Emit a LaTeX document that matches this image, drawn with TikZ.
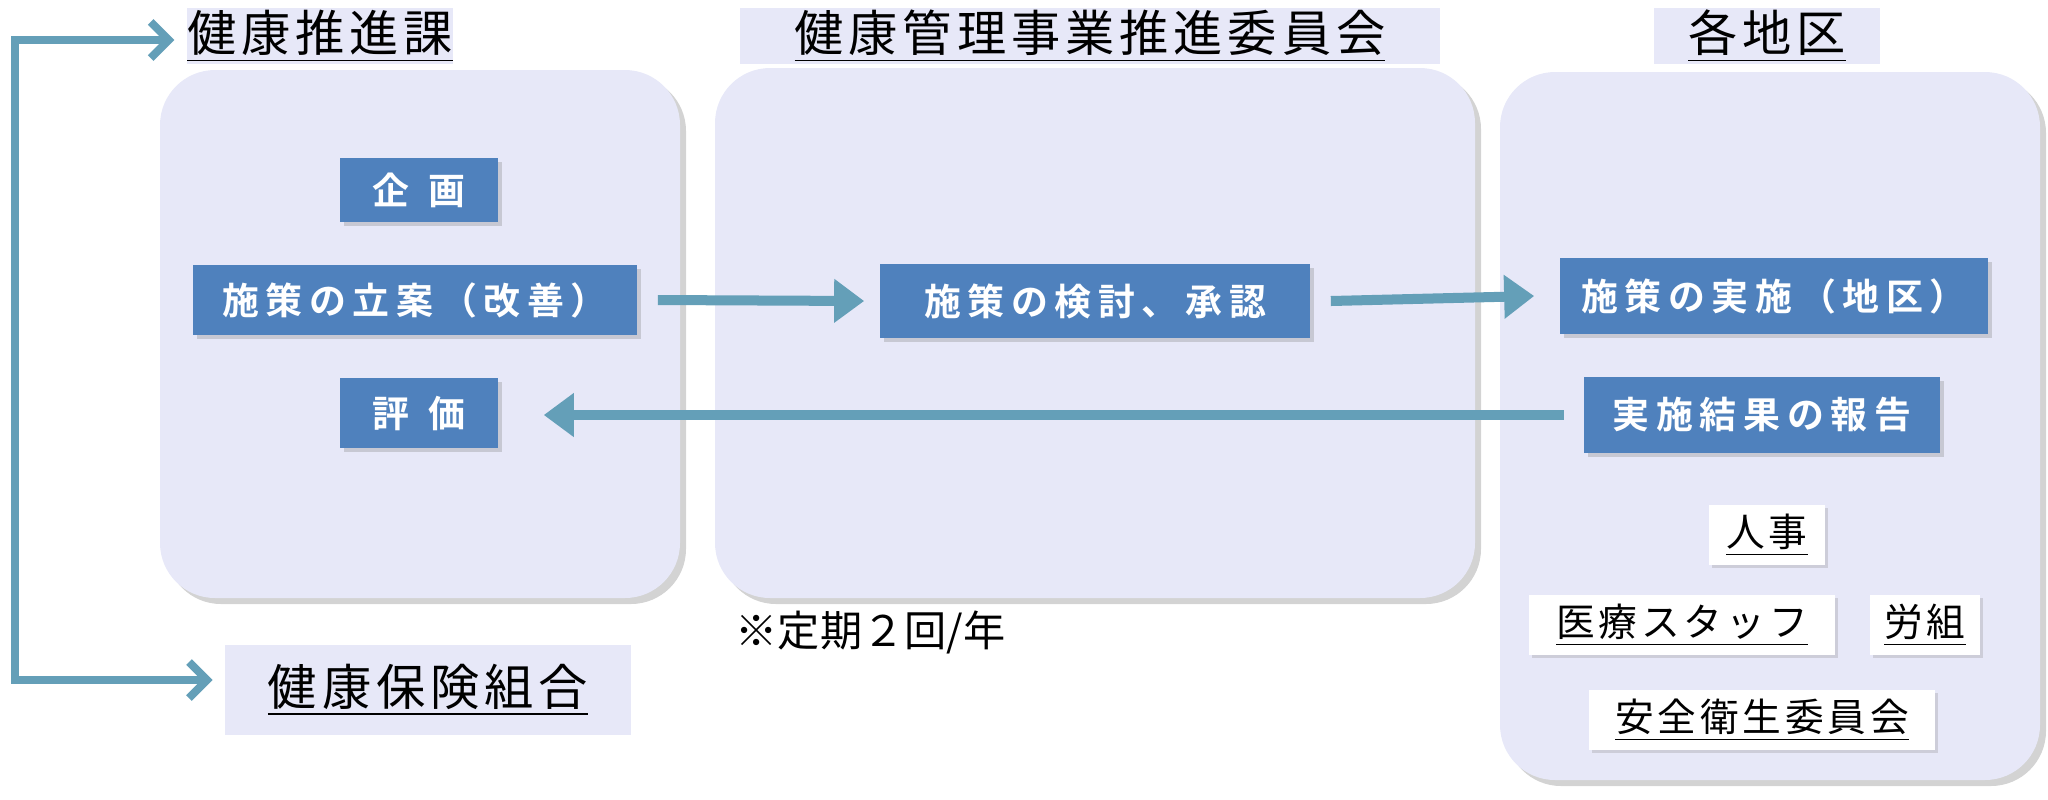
\documentclass[tikz,border=0pt]{standalone}
\usepackage{fontspec}
\setmainfont{Noto Sans CJK JP}
\newfontfamily\jpb[LetterSpace=18]{Noto Sans CJK JP Bold}
\newfontfamily\jpt[LetterSpace=10]{Noto Sans CJK JP}
\usetikzlibrary{shadows,arrows.meta}
\definecolor{fondpanel}{HTML}{E7E8F8}
\definecolor{bleu}{HTML}{4F81BD}
\definecolor{fleche}{HTML}{649FB8}

\begin{document}
\begin{tikzpicture}[x=0.01cm,y=-0.01cm]
	% STYLES
	\tikzset{
		panneau/.style={draw=none, fill=fondpanel, rounded corners=0.55cm, drop shadow={opacity=0.35, shadow xshift=0.06cm, shadow yshift=-0.06cm}},
		titre/.style={fill=fondpanel, inner sep=0pt, font=\jpt\fontsize{14}{14}\selectfont},
		etape/.style={fill=bleu, text=white, inner sep=0pt, font=\jpb\fontsize{10.5}{10.5}\selectfont, drop shadow={opacity=0.3, shadow xshift=0.04cm, shadow yshift=-0.04cm}},
		membre/.style={fill=white, inner sep=0pt, font=\jpt\fontsize{11}{11}\selectfont, drop shadow={opacity=0.25, shadow xshift=0.03cm, shadow yshift=-0.03cm}},
		fl/.style={line width=0.1cm, draw=fleche, -{Triangle[length=0.3cm, width=0.42cm]}},
		crochet/.style={line width=0.08cm, draw=fleche, {Straight Barb[length=0.18cm, width=0.36cm, line width=0.08cm]}-{Straight Barb[length=0.18cm, width=0.36cm, line width=0.08cm]}}
	}
	\useasboundingbox (0,0) rectangle (2048,799);

	% PANNEAUX
	\draw[panneau] (160,70) rectangle (680,598);
	\draw[panneau] (715,68) rectangle (1475,598);
	\draw[panneau] (1500,72) rectangle (2040,780);

	% TITRES
	\node[titre, minimum width=2.6cm, minimum height=0.56cm] (tpromo) at (320,36) {\underline{健康推進課}};
	\node[titre, minimum width=7cm, minimum height=0.56cm] (tcomite) at (1090,36) {\underline{健康管理事業推進委員会}};
	\node[titre, minimum width=2.25cm, minimum height=0.56cm] (tdistrict) at (1767,36) {\underline{各地区}};
	\node[titre, minimum width=4.05cm, minimum height=0.9cm] (tassur) at (428,690) {\underline{健康保険組合}};

	% ETAPES
	\node[etape, minimum width=1.58cm, minimum height=0.64cm] (plan) at (419,190) {企\hspace{0.5em}画};
	\node[etape, minimum width=4.44cm, minimum height=0.7cm] (projet) at (415,300) {施策の立案（改善）};
	\node[etape, minimum width=1.58cm, minimum height=0.7cm] (evalu) at (419,413) {評\hspace{0.5em}価};
	\node[etape, minimum width=4.3cm, minimum height=0.73cm] (examen) at (1095,301) {施策の検討、承認};
	\node[etape, minimum width=4.28cm, minimum height=0.75cm] (mise) at (1774,296) {施策の実施（地区）};
	\node[etape, minimum width=3.55cm, minimum height=0.75cm] (rapport) at (1762,415) {実施結果の報告};

	% MEMBRES
	\node[membre, minimum width=1.15cm, minimum height=0.6cm] (rh) at (1767,535) {\underline{人事}};
	\node[membre, minimum width=3.05cm, minimum height=0.6cm] (medic) at (1682,625) {\underline{医療スタッフ}};
	\node[membre, minimum width=1.1cm, minimum height=0.6cm] (syndic) at (1925,625) {\underline{労組}};
	\node[membre, minimum width=3.45cm, minimum height=0.6cm] (secu) at (1762,720) {\underline{安全衛生委員会}};

	% NOTE
	\node[anchor=west, inner sep=0pt, font=\fontsize{12}{12}\selectfont] (note) at (735,632) {※定期２回/年};

	% FLECHES
	\draw[fl] ([xshift=0.2cm]projet.east) -- ([xshift=-0.15cm]examen.west);
	\draw[fl] ([xshift=0.2cm]examen.east) -- ([xshift=-0.25cm]mise.west);
	\draw[fl] ([xshift=-0.2cm]rapport.west) -- ([xshift=0.45cm]evalu.east |- rapport.west);

	% CROCHET
	\coordinate (coin1) at (15,40);
	\coordinate (coin2) at (15,680);
	\draw[crochet] ([xshift=-0.12cm]tpromo.west |- coin1) -- (coin1) -- (coin2) -- ([xshift=-0.12cm]tassur.west |- coin2);
\end{tikzpicture}
\end{document}
